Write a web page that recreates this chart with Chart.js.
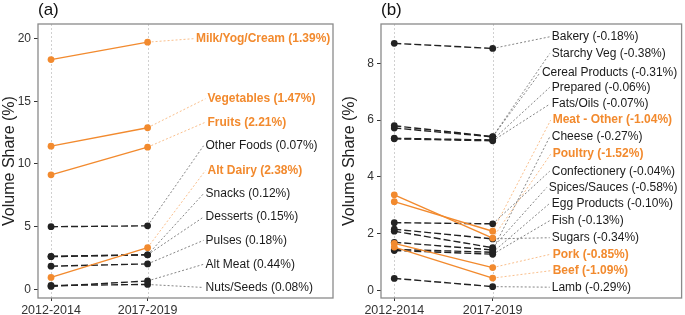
<!DOCTYPE html>
<html>
<head>
<meta charset="utf-8">
<script src="https://cdn.jsdelivr.net/npm/chart.js@4.4.0/dist/chart.umd.min.js"></script>
<style>
  body { margin: 0; background: #fff; }
  #wrap { position: relative; width: 685px; height: 315px; }
  #a { position: absolute; left: 0; top: 0; }
  #b { position: absolute; left: 340px; top: 0; }
</style>
</head>
<body>
<div id="wrap">
  <canvas id="a" width="340" height="315"></canvas>
  <canvas id="b" width="345" height="315"></canvas>
</div>
<script>
const periods = ["2012-2014", "2017-2019"];

// panel (a): foods whose share grew
const foodsA = ["Milk/Yog/Cream", "Vegetables", "Fruits", "Other Foods", "Alt Dairy",
  "Snacks", "Desserts", "Pulses", "Alt Meat", "Nuts/Seeds"];
const startA = [18.33, 11.42, 9.13, 4.99, 0.94, 2.63, 2.60, 1.84, 0.22, 0.30];
const endA = [19.72, 12.89, 11.34, 5.06, 3.32, 2.75, 2.75, 2.02, 0.66, 0.38];
const changeA = ["1.39", "1.47", "2.21", "0.07", "2.38", "0.12", "0.15", "0.18", "0.44", "0.08"];
const hiA = [true, true, true, false, true, false, false, false, false, false];
const ticksA = [0, 5, 10, 15, 20];

// panel (b): foods whose share fell
const foodsB = ["Bakery", "Starchy Veg", "Cereal Products", "Prepared", "Fats/Oils",
  "Meat - Other", "Cheese", "Poultry", "Confectionery", "Spices/Sauces",
  "Egg Products", "Fish", "Sugars", "Pork", "Beef", "Lamb"];
const startB = [8.70, 5.80, 5.72, 5.36, 5.34, 3.13, 1.70, 3.37, 2.39, 2.09, 1.45, 1.41, 2.16, 1.66, 1.53, 0.43];
const endB = [8.52, 5.42, 5.41, 5.30, 5.27, 2.09, 1.43, 1.85, 2.35, 1.51, 1.35, 1.28, 1.82, 0.81, 0.44, 0.14];
const changeB = ["-0.18", "-0.38", "-0.31", "-0.06", "-0.07", "-1.04", "-0.27", "-1.52",
  "-0.04", "-0.58", "-0.10", "-0.13", "-0.34", "-0.85", "-1.09", "-0.29"];
const hiB = [false, false, false, false, false, true, false, true, false, false, false, false, false, true, true, false];
const ticksB = [0, 2, 4, 6, 8];

// where the repelled labels sit (x in period units, y in data units)
const labelXA = [1.50, 1.62, 1.62, 1.60, 1.62, 1.60, 1.60, 1.60, 1.60, 1.60];
const labelYA = [20.0, 15.2, 13.33, 11.45, 9.48, 7.63, 5.76, 3.9, 1.99, 0.14];
const labelXB = [1.60, 1.60, 1.50, 1.60, 1.60, 1.61, 1.60, 1.61, 1.60, 1.57, 1.60, 1.60, 1.60, 1.61, 1.61, 1.60];
const labelYB = [8.93, 8.34, 7.66, 7.15, 6.56, 6.0, 5.41, 4.80, 4.20, 3.63, 3.07, 2.46, 1.86, 1.28, 0.70, 0.12];

const ORANGE = "#F28A2E";
const DARK = "#222222";
const FONT = "'Liberation Sans', Arial, sans-serif";
Chart.defaults.font.family = FONT;

function makeChart(id, cfg) {
  const decor = {
    id: "decor",
    beforeDatasetsDraw(chart) {
      const { ctx, chartArea: a, scales: { x, y } } = chart;
      ctx.save();
      ctx.strokeStyle = "#d0d0d0";
      ctx.lineWidth = 1;
      ctx.setLineDash([2, 2]);
      [0, 1].forEach(v => {
        const px = Math.round(x.getPixelForValue(v)) + 0.5;
        ctx.beginPath();
        ctx.moveTo(px, a.top);
        ctx.lineTo(px, a.bottom);
        ctx.stroke();
      });
      // leader lines
      ctx.lineWidth = 0.8;
      cfg.names.forEach((n, i) => {
        ctx.strokeStyle = cfg.hi[i] ? "#F7AE6E" : "#666";
        ctx.beginPath();
        ctx.moveTo(x.getPixelForValue(1), y.getPixelForValue(cfg.end[i]));
        ctx.lineTo(x.getPixelForValue(cfg.lx[i]) - 2, y.getPixelForValue(cfg.ly[i]));
        ctx.stroke();
      });
      ctx.restore();
    },
    afterDraw(chart) {
      const { ctx, chartArea: a, scales: { x, y } } = chart;
      ctx.save();
      ctx.textBaseline = "middle";
      ctx.textAlign = "left";
      cfg.names.forEach((n, i) => {
        ctx.fillStyle = cfg.hi[i] ? ORANGE : "#1a1a1a";
        ctx.font = (cfg.hi[i] ? "bold " : "") + "12px " + FONT;
        ctx.fillText(n + " (" + cfg.change[i] + "%)", x.getPixelForValue(cfg.lx[i]), y.getPixelForValue(cfg.ly[i]));
      });
      ctx.strokeStyle = "#8a8a8a";
      ctx.lineWidth = 1.3;
      ctx.strokeRect(a.left, a.top, a.right - a.left, a.bottom - a.top);
      ctx.fillStyle = "#111";
      ctx.font = "17px " + FONT;
      ctx.fillText(cfg.tag, a.left, 10);
      ctx.restore();
    }
  };

  return new Chart(document.getElementById(id), {
    type: "line",
    data: {
      datasets: cfg.names.map((n, i) => ({
        label: n,
        data: [{ x: 0, y: cfg.start[i] }, { x: 1, y: cfg.end[i] }],
        borderColor: cfg.hi[i] ? ORANGE : DARK,
        backgroundColor: cfg.hi[i] ? ORANGE : DARK,
        borderDash: cfg.hi[i] ? [] : [7, 3],
        borderWidth: 1.4,
        pointRadius: 3.4,
        pointBorderWidth: 0,
        pointHoverRadius: 3.4,
        tension: 0,
        order: cfg.hi[i] ? 0 : 1
      }))
    },
    options: {
      responsive: false,
      animation: false,
      events: [],
      layout: { padding: { top: 24, right: cfg.padRight, bottom: 0, left: 0 } },
      plugins: { legend: { display: false }, tooltip: { enabled: false } },
      scales: {
        x: {
          type: "linear",
          min: -0.135,
          max: 2.92,
          afterBuildTicks: s => { s.ticks = [0, 1].map(v => ({ value: v })); },
          afterFit: s => { s.height = 17; },
          grid: { drawOnChartArea: false, tickLength: 3, color: "#333" },
          border: { display: false },
          ticks: { padding: 2, color: "#333", font: { size: 12.5 }, maxRotation: 0, autoSkip: false,
            callback: v => periods[v] }
        },
        y: {
          min: cfg.ymin,
          max: cfg.ymax,
          afterBuildTicks: s => { s.ticks = cfg.ticks.map(v => ({ value: v })); },
          afterFit: s => { s.width = cfg.axisW; },
          grid: { drawOnChartArea: false, tickLength: 4, color: "#333" },
          border: { display: false },
          ticks: { padding: 3, color: "#333", font: { size: 12 } },
          title: { display: true, text: "Volume Share (%)", color: "#222", font: { size: 16 }, padding: 0 }
        }
      }
    },
    plugins: [decor]
  });
}

makeChart("a", {
  tag: "(a)", names: foodsA, start: startA, end: endA, change: changeA, hi: hiA,
  lx: labelXA, ly: labelYA, ticks: ticksA, ymin: -0.7, ymax: 21.17, axisW: 38, padRight: 7
});
makeChart("b", {
  tag: "(b)", names: foodsB, start: startB, end: endB, change: changeB, hi: hiB,
  lx: labelXB, ly: labelYB, ticks: ticksB, ymin: -0.26, ymax: 9.38, axisW: 41, padRight: 2
});
</script>
</body>
</html>
